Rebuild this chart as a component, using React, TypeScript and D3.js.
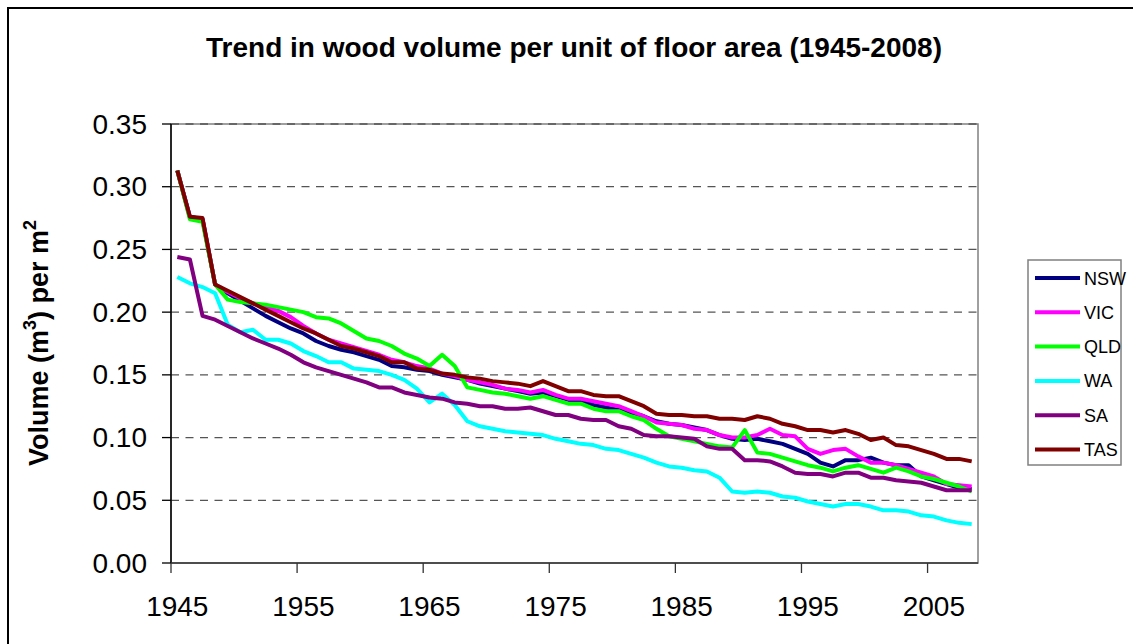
import React from "react";
import * as d3 from "d3";

const years: number[] = d3.range(1945, 2009);
const xTickLabels = ["1945", "1955", "1965", "1975", "1985", "1995", "2005"];
const yTicks = [0, 0.05, 0.1, 0.15, 0.2, 0.25, 0.3, 0.35];

const NSW = [0.313,0.276,0.274,0.222,0.215,0.209,0.203,0.197,0.192,0.187,
  0.183,0.177,0.173,0.170,0.168,0.165,0.162,0.157,0.156,0.154,
  0.153,0.150,0.148,0.146,0.143,0.141,0.139,0.137,0.135,0.136,
  0.133,0.130,0.129,0.126,0.124,0.122,0.120,0.117,0.113,0.111,
  0.110,0.108,0.106,0.102,0.099,0.098,0.099,0.097,0.095,0.091,
  0.087,0.080,0.077,0.082,0.082,0.084,0.080,0.078,0.078,0.069,
  0.066,0.063,0.060,0.059];
const VIC = [0.313,0.275,0.274,0.222,0.216,0.211,0.207,0.204,0.201,0.196,
  0.189,0.183,0.178,0.175,0.172,0.169,0.166,0.162,0.160,0.157,
  0.155,0.151,0.149,0.146,0.144,0.142,0.139,0.138,0.136,0.138,
  0.134,0.131,0.131,0.129,0.127,0.125,0.121,0.117,0.112,0.111,
  0.110,0.107,0.106,0.102,0.100,0.100,0.102,0.107,0.102,0.101,
  0.091,0.087,0.090,0.091,0.085,0.080,0.080,0.078,0.075,0.072,
  0.069,0.063,0.062,0.061];
const QLD = [0.313,0.274,0.272,0.222,0.210,0.208,0.207,0.206,0.204,0.202,
  0.200,0.196,0.195,0.191,0.185,0.179,0.177,0.173,0.167,0.163,
  0.157,0.166,0.157,0.140,0.138,0.136,0.135,0.133,0.131,0.133,
  0.130,0.127,0.127,0.123,0.121,0.121,0.117,0.114,0.107,0.101,
  0.099,0.097,0.095,0.093,0.092,0.106,0.088,0.087,0.084,0.081,
  0.078,0.076,0.073,0.076,0.078,0.075,0.072,0.076,0.073,0.069,
  0.067,0.064,0.061,0.057];
const WA = [0.228,0.223,0.220,0.215,0.190,0.184,0.186,0.178,0.178,0.175,
  0.169,0.165,0.160,0.160,0.155,0.154,0.153,0.150,0.146,0.139,
  0.128,0.135,0.126,0.113,0.109,0.107,0.105,0.104,0.103,0.102,
  0.099,0.097,0.095,0.094,0.091,0.090,0.087,0.084,0.080,0.077,
  0.076,0.074,0.073,0.068,0.057,0.056,0.057,0.056,0.053,0.052,
  0.049,0.047,0.045,0.047,0.047,0.045,0.042,0.042,0.041,0.038,
  0.037,0.034,0.032,0.031];
const SA = [0.244,0.242,0.197,0.194,0.189,0.184,0.179,0.175,0.171,0.166,
  0.160,0.156,0.153,0.150,0.147,0.144,0.140,0.140,0.136,0.134,
  0.132,0.131,0.128,0.127,0.125,0.125,0.123,0.123,0.124,0.121,
  0.118,0.118,0.115,0.114,0.114,0.109,0.107,0.102,0.101,0.101,
  0.100,0.099,0.093,0.091,0.091,0.082,0.082,0.081,0.077,0.072,
  0.071,0.071,0.069,0.072,0.072,0.068,0.068,0.066,0.065,0.064,
  0.061,0.058,0.058,0.058];
const TAS = [0.313,0.276,0.275,0.222,0.217,0.212,0.207,0.202,0.197,0.192,
  0.187,0.183,0.178,0.173,0.171,0.168,0.165,0.160,0.160,0.155,
  0.154,0.151,0.150,0.148,0.147,0.145,0.144,0.143,0.141,0.145,
  0.141,0.137,0.137,0.134,0.133,0.133,0.129,0.125,0.119,0.118,
  0.118,0.117,0.117,0.115,0.115,0.114,0.117,0.115,0.111,0.109,
  0.106,0.106,0.104,0.106,0.103,0.098,0.100,0.094,0.093,0.090,
  0.087,0.083,0.083,0.081];

const seriesNames = ["NSW", "VIC", "QLD", "WA", "SA", "TAS"];
const seriesValues = [NSW, VIC, QLD, WA, SA, TAS];
const seriesColors = ["#000080", "#FF00FF", "#00FF00", "#00FFFF", "#800080", "#800000"];

const FONT = "'Liberation Sans', Arial, sans-serif";

export default function App() {
  const W = 1133, H = 644;
  const left = 171, right = 978, top = 124, bottom = 563;
  const x = d3.scaleBand<number>().domain(years).range([left, right]).padding(0);
  const y = d3.scaleLinear().domain([0, 0.35]).range([bottom, top]);
  const cx = (yr: number) => (x(yr) as number) + x.bandwidth() / 2;
  const line = d3.line<number>().x((_, i) => cx(years[i])).y((v) => y(v));

  const legX = 1028, legY = 260, legW = 93, legH = 205;
  const legStep = 34.3;

  return (
    <svg width={W} height={H} style={{ position: "absolute", left: 0, top: 0, background: "#fff" }} fontFamily={FONT}>
      <rect x={0} y={0} width={W} height={H} fill="#fff" />
      <rect x={8} y={8} width={1200} height={700} fill="none" stroke="#000" strokeWidth={2} />
      <text x={574} y={57} textAnchor="middle" fontSize={28} fontWeight="bold">
        Trend in wood volume per unit of floor area (1945-2008)
      </text>
      {/* plot border */}
      <rect x={left} y={top} width={right - left} height={bottom - top} fill="none" stroke="#808080" strokeWidth={1.5} />
      {/* gridlines */}
      {yTicks.filter((t) => t > 0).map((t) => (
        <line key={"g" + t} x1={left} x2={right} y1={y(t)} y2={y(t)} stroke="#555" strokeWidth={1.3} strokeDasharray="8,6.5" />
      ))}
      {/* axes */}
      <line x1={left} x2={left} y1={top} y2={bottom} stroke="#000" strokeWidth={1.5} />
      <line x1={left} x2={right} y1={bottom} y2={bottom} stroke="#333" strokeWidth={1.5} />
      {yTicks.map((t) => (
        <g key={"yt" + t}>
          <line x1={left - 9} x2={left} y1={y(t)} y2={y(t)} stroke="#000" strokeWidth={1.3} />
          <text x={147} y={y(t) + 9.5} textAnchor="end" fontSize={28}>{t.toFixed(2)}</text>
        </g>
      ))}
      {years.filter((yr) => (yr - 1945) % 10 === 0).map((yr) => (
        <line key={"xt" + yr} x1={x(yr)} x2={x(yr)} y1={bottom} y2={bottom + 10} stroke="#333" strokeWidth={1.3} />
      ))}
      {xTickLabels.map((lab) => (
        <text key={"xl" + lab} x={cx(+lab)} y={616} textAnchor="middle" fontSize={28}>{lab}</text>
      ))}
      {/* y label */}
      <text transform="translate(48,343) rotate(-90)" textAnchor="middle" fontSize={27} fontWeight="bold">
        Volume (m<tspan fontSize={18} dy={-12}>3</tspan><tspan dy={12}>) per m</tspan><tspan fontSize={18} dy={-12}>2</tspan>
      </text>
      {/* series */}
      {seriesValues.map((vals, i) => (
        <path key={seriesNames[i]} d={line(vals) || ""} fill="none" stroke={seriesColors[i]} strokeWidth={4} strokeLinejoin="round" />
      ))}
      {/* legend */}
      <rect x={legX} y={legY} width={legW} height={legH} fill="#fff" stroke="#808080" strokeWidth={1.5} />
      {seriesNames.map((n, i) => {
        const ly = 278 + i * legStep;
        return (
          <g key={"lg" + n}>
            <line x1={1035} x2={1080} y1={ly} y2={ly} stroke={seriesColors[i]} strokeWidth={4} />
            <text x={1084} y={ly + 6.5} fontSize={18}>{n}</text>
          </g>
        );
      })}
    </svg>
  );
}
